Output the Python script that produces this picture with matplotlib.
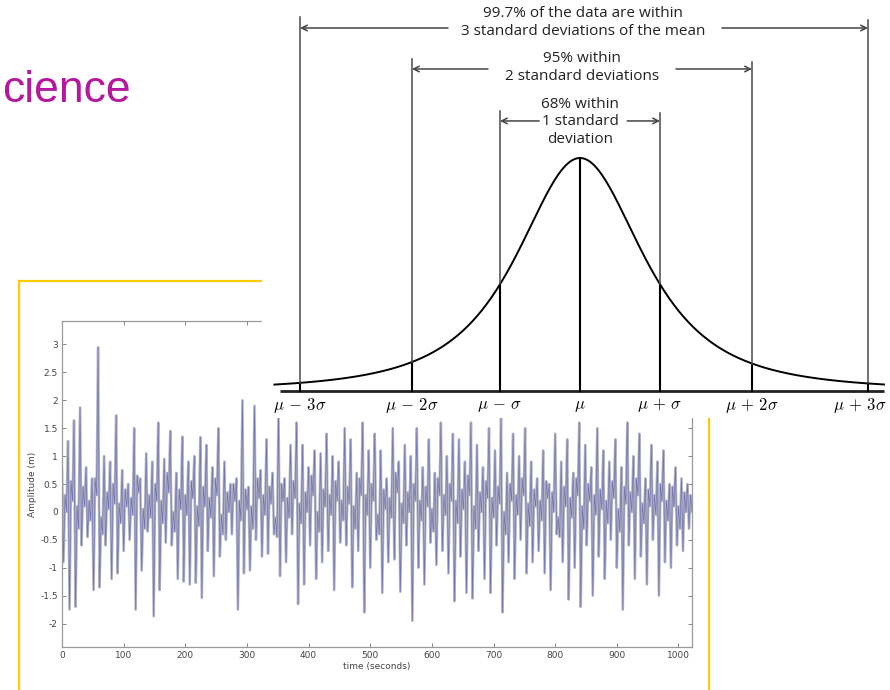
import numpy as np
import matplotlib
matplotlib.use("Agg")
import matplotlib.pyplot as plt
from matplotlib.patches import Rectangle

plt.rcParams["mathtext.fontset"] = "cm"

# wave record: successive crest / trough heights (m)
crests = [0.75, 1.27, 1.64, 1.87, 0.8, 0.6, 2.95, 1.0, 0.9, 1.73, 0.75, 0.5, 1.5, 0.6,
          1.05, 0.9, 1.6, 0.95, 1.45, 0.7, 1.35, 0.9, 1.0, 1.34, 1.2, 0.8, 1.5,
          0.9, 0.5, 0.6, 2.0, 0.45, 1.9, 0.75, 1.3, 0.7, 1.8, 0.6, 1.2, 1.6,
          1.2, 0.8, 1.1, 1.05, 1.4, 1.0, 0.9, 1.5, 1.3, 0.7, 1.6, 1.1, 1.4,
          1.1, 0.6, 1.5, 0.9, 1.2, 1.0, 1.5, 0.8, 1.3, 0.7, 1.6, 1.0, 1.4,
          1.3, 0.9, 1.6, 1.2, 0.8, 1.5, 1.1, 1.7, 0.7, 1.4, 1.0, 1.5, 0.9,
          0.6, 1.1, 0.5, 1.4, 0.9, 1.3, 0.7, 1.6, 1.2, 0.8, 1.5, 1.1, 0.9,
          1.3, 0.8, 1.6, 1.0, 1.4, 0.6, 1.2, 0.9, 1.1, 0.5, 0.8, 0.6, 0.5]
troughs = [-0.9, -1.75, -1.7, -0.6, -0.45, -1.4, -1.35, -0.6, -1.2, -1.1, -0.7, -0.5, -1.75, -1.05,
           -0.35, -1.87, -1.4, -0.55, -0.6, -1.2, -1.25, -1.3, -1.27, -1.54, -0.7, -1.15, -0.8,
           -0.5, -0.4, -1.75, -1.1, -1.05, -0.5, -0.8, -0.75, -0.4, -1.15, -0.9, -0.4, -1.65,
           -1.3, -0.6, -1.2, -0.9, -0.7, -1.4, -0.55, -0.6, -1.35, -0.7, -1.8, -1.0, -0.5,
           -1.45, -0.9, -0.85, -1.43, -0.6, -1.95, -1.0, -1.3, -0.55, -0.95, -0.7, -1.1, -1.6,
           -0.8, -1.45, -1.55, -0.7, -1.2, -1.45, -0.6, -1.8, -0.9, -1.2, -0.5, -1.1, -0.9,
           -0.7, -1.1, -1.4, -0.4, -0.9, -1.57, -1.0, -1.7, -0.6, -1.5, -0.8, -1.2, -0.5,
           -1.0, -1.75, -0.6, -1.2, -0.8, -1.3, -0.5, -1.5, -0.9, -1.0, -0.6, -0.7, -0.3]
# small secondary wiggles between the big swings
ripple_hi = [0.3, 0.55, 0.1, 0.45, 0.2, 0.6, -0.1, 0.35, 0.5, 0.15, 0.4, 0.25, 0.65, 0.05, 0.3,
             0.5, 0.2, 0.7, 0.0, 0.4, 0.3, 0.55, 0.1, 0.45, 0.25, 0.6, -0.05, 0.35, 0.5, 0.2,
             0.4, 0.1, 0.6, 0.3, 0.45, -0.1, 0.5, 0.25, 0.55, 0.15, 0.35, 0.65, 0.0, 0.4, 0.3,
             0.55, 0.2, 0.45, 0.1, 0.6, 0.3, 0.5, -0.05, 0.4, 0.25, 0.7, 0.15, 0.35, 0.5, 0.2,
             0.45, 0.05, 0.6, 0.3, 0.5, 0.2, 0.4, 0.65, 0.1, 0.35, 0.55, 0.25, 0.45, 0.0, 0.5,
             0.3, 0.6, 0.15, 0.4, 0.2, 0.55, 0.35, -0.1, 0.45, 0.25, 0.6, 0.1, 0.5, 0.3, 0.4,
             0.2, 0.55, 0.05, 0.45, 0.35, 0.6, 0.15, 0.4, 0.3, 0.5, 0.2, 0.45, 0.1, 0.35, 0.3]
ripple_lo = [0.0, 0.2, -0.3, 0.1, -0.15, 0.3, -0.4, 0.05, 0.15, -0.2, 0.1, -0.05, 0.35, -0.3, -0.1,
             0.2, -0.2, 0.35, -0.35, 0.05, -0.05, 0.25, -0.25, 0.1, -0.1, 0.3, -0.4, 0.0, 0.2, -0.15,
             0.05, -0.3, 0.25, -0.05, 0.15, -0.45, 0.2, -0.1, 0.25, -0.2, 0.0, 0.3, -0.35, 0.1, -0.05,
             0.2, -0.15, 0.15, -0.3, 0.3, -0.05, 0.2, -0.4, 0.05, -0.1, 0.35, -0.2, 0.0, 0.2, -0.15,
             0.1, -0.35, 0.3, -0.05, 0.2, -0.2, 0.05, 0.3, -0.3, 0.0, 0.25, -0.1, 0.15, -0.4, 0.2,
             -0.05, 0.3, -0.25, 0.1, -0.15, 0.25, 0.0, -0.45, 0.1, -0.1, 0.3, -0.3, 0.2, -0.05, 0.05,
             -0.2, 0.25, -0.35, 0.15, 0.0, 0.3, -0.2, 0.1, -0.05, 0.2, -0.15, 0.1, -0.3, 0.0, 0.0]

wave_xticks = [0, 100, 200, 300, 400, 500, 600, 700, 800, 900, 1000]
wave_yticks = [-2, -1.5, -1, -0.5, 0, 0.5, 1, 1.5, 2, 2.5, 3]
wave_ylabels = ["-2", "-1.5", "-1", "-0.5", "0", "0.5", "1", "1.5", "2", "2.5", "3"]

# normal-curve diagram
sigma_labels = [r"$\mu\,-\,3\sigma$", r"$\mu\,-\,2\sigma$", r"$\mu\,-\,\sigma$", r"$\mu$",
                r"$\mu\,+\,\sigma$", r"$\mu\,+\,2\sigma$", r"$\mu\,+\,3\sigma$"]
sigma_pos = [-3.5, -2.1, -1.0, 0.0, 1.0, 2.15, 3.6]
notes = ["99.7% of the data are within\n3 standard deviations of the mean",
         "95% within\n2 standard deviations",
         "68% within\n1 standard\ndeviation"]

W, H = 890, 690
fig = plt.figure(figsize=(W / 100, H / 100), dpi=100)

def box(l, t, r, b):
    return [l / W, 1 - b / H, (r - l) / W, (b - t) / H]

# slide title fragment
fig.text(2 / W, 1 - 102 / H, "cience", color="#b5179e", fontsize=32,
         family="Liberation Sans", va="baseline", ha="left")

# yellow frame around the wave picture
fig.add_artist(Rectangle((19 / W, -0.05), (709 - 19) / W, 0.05 + (H - 281) / H,
                         transform=fig.transFigure, fill=False,
                         edgecolor="#ffcc00", lw=1.6, zorder=1))

# wave record
ax = fig.add_axes(box(62, 321, 692, 647))
n = len(crests)
vals = np.empty(4 * n)
vals[0::4] = crests
vals[1::4] = troughs
vals[2::4] = ripple_hi
vals[3::4] = ripple_lo
t = np.linspace(0, 1022, len(vals))
ax.plot(t, vals, color="#b0b1c6", lw=1.8)
ax.plot(t, vals, color="#3a3f96", lw=0.45, alpha=0.55)
ax.set_xlim(0, 1022)
ax.set_ylim(-2.42, 3.42)
ax.set_xticks(wave_xticks)
ax.set_xticklabels([str(v) for v in wave_xticks])
ax.set_yticks(wave_yticks)
ax.set_yticklabels(wave_ylabels)
ax.tick_params(direction="in", length=3, width=0.7, color="#888888",
               labelsize=6.5, labelcolor="#444444", top=True, right=True, pad=3)
for s in ax.spines.values():
    s.set_color("#999999")
    s.set_linewidth(0.9)
ax.set_xlabel("time (seconds)", fontsize=6.5, color="#444444", labelpad=1)
ax.set_ylabel("Amplitude (m)", fontsize=6.5, color="#444444", labelpad=2)

# normal distribution diagram (pasted over the wave picture)
nx = fig.add_axes(box(262, 0, 890, 418), zorder=5)
nx.set_facecolor("white")
nx.set_xticks([])
nx.set_yticks([])
for s in nx.spines.values():
    s.set_visible(False)
nx.set_xlim((262 - 580) / 80, (890 - 580) / 80)
nx.set_ylim(-27 / 233, 391 / 233)

d = np.linspace(-3.82, 3.8, 500)
bell = (1 + (d / 1.21) ** 2) ** -1.5
nx.plot(d, bell, color="black", lw=1.4)
nx.plot([-3.75, 3.8], [0, 0], color="#222222", lw=2.0, solid_capstyle="butt")

tops = [1.605, 1.425, 1.2, None, 1.193, 1.412, 1.592]
for p, top, lab in zip(sigma_pos, tops, sigma_labels):
    h = (1 + (p / 1.21) ** 2) ** -1.5
    nx.plot([p, p], [0, h], color="black", lw=1.5)
    if top is not None:
        nx.plot([p, p], [h, top], color="#4a4a4a", lw=1.1)
    nx.text(min(p, 3.5), -0.062, lab, ha="center", va="center", fontsize=12)

arrow_y = [1.558, 1.382, 1.159]
arrow_from = [(-1.65, 1.775), (-1.15, 1.2), (-0.51, 0.59)]
pairs = [(0, 6), (1, 5), (2, 4)]
for y, (a, b), (i, j) in zip(arrow_y, arrow_from, pairs):
    kw = dict(arrowstyle="->", color="#444444", lw=1.1, shrinkA=0, shrinkB=0,
              mutation_scale=10)
    nx.annotate("", xy=(sigma_pos[i], y), xytext=(a, y), arrowprops=kw)
    nx.annotate("", xy=(sigma_pos[j], y), xytext=(b, y), arrowprops=kw)

note_xy = [(0.04, 1.583), (0.025, 1.39), (0.0, 1.155)]
for (x, y), s in zip(note_xy, notes):
    nx.text(x, y, s, ha="center", va="center", fontsize=11, family="Open Sans",
            color="#222222", linespacing=1.25)

fig.savefig("out.png", dpi=100)
